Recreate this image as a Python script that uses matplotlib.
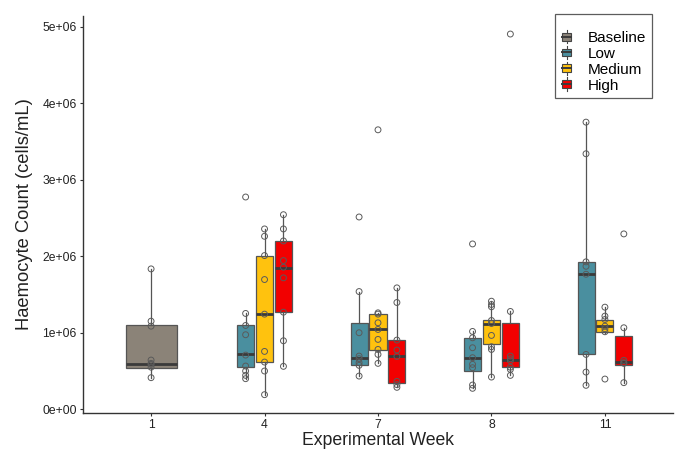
import matplotlib
matplotlib.use("Agg")
import matplotlib.pyplot as plt
from matplotlib.legend_handler import HandlerBase
from matplotlib.patches import Rectangle
from matplotlib.lines import Line2D

plt.rcParams['font.family'] = ['Liberation Sans', 'DejaVu Sans']

weeks = ['1', '4', '7', '8', '11']
groups = ['Baseline', 'Low', 'Medium', 'High']
colors = {'Baseline': '#8b8378', 'Low': '#4a8f9f', 'Medium': '#ffc20e', 'High': '#f20000'}

# box statistics (cells/mL, millions), one entry per box
box_week = ['1', '4', '4', '4', '7', '7', '7', '8', '8', '8', '11', '11', '11']
box_group = ['Baseline', 'Low', 'Medium', 'High', 'Low', 'Medium', 'High',
             'Low', 'Medium', 'High', 'Low', 'Medium', 'High']
box_whislo = [0.413, 0.400, 0.191, 0.561, 0.434, 0.600, 0.287, 0.274, 0.421, 0.443, 0.313, 1.000, 0.348]
box_q1 = [0.535, 0.548, 0.617, 1.269, 0.574, 0.774, 0.339, 0.500, 0.847, 0.552, 0.717, 1.013, 0.574]
box_med = [0.587, 0.726, 1.243, 1.847, 0.669, 1.043, 0.691, 0.674, 1.117, 0.643, 1.764, 1.086, 0.622]
box_q3 = [1.095, 1.095, 2.008, 2.199, 1.130, 1.243, 0.904, 0.934, 1.160, 1.130, 1.926, 1.165, 0.956]
box_whishi = [1.834, 1.252, 2.356, 2.542, 1.538, 1.260, 1.586, 1.017, 1.412, 1.278, 3.751, 1.334, 1.065]

# raw observations (millions), same order as the boxes
box_points = [
    [1.834, 1.151, 1.086, 0.643, 0.600, 0.587, 0.550, 0.413],
    [2.773, 1.252, 1.095, 0.974, 0.708, 0.565, 0.500, 0.443, 0.400],
    [2.356, 2.260, 2.008, 1.695, 1.243, 0.756, 0.617, 0.500, 0.191],
    [2.542, 2.356, 2.199, 1.943, 1.856, 1.717, 1.269, 0.895, 0.561],
    [2.512, 1.538, 1.000, 0.695, 0.661, 0.609, 0.574, 0.434],
    [3.651, 1.260, 1.243, 1.130, 1.043, 0.913, 0.782, 0.717, 0.600],
    [1.586, 1.395, 0.904, 0.774, 0.691, 0.365, 0.322, 0.287],
    [2.160, 1.017, 0.934, 0.804, 0.674, 0.587, 0.543, 0.317, 0.274],
    [1.412, 1.369, 1.339, 1.160, 1.121, 0.965, 0.817, 0.782, 0.421],
    [4.902, 1.278, 0.695, 0.660, 0.635, 0.550, 0.521, 0.443],
    [3.751, 3.338, 1.926, 1.868, 1.764, 0.717, 0.486, 0.313],
    [1.334, 1.217, 1.173, 1.086, 1.052, 1.013, 0.395],
    [2.291, 1.065, 0.639, 0.609, 0.600, 0.348],
]

offsets = {'Low': -1 / 6, 'Medium': 0.0, 'High': 1 / 6}

fig = plt.figure(figsize=(6.78, 4.49), dpi=100)
ax = fig.add_axes([83 / 678, 1 - 412.7 / 449, 590 / 678, (412.7 - 16) / 449])

edge = '#3a3a3a'
for i in range(len(box_week)):
    xi = weeks.index(box_week[i]) + 1
    g = box_group[i]
    if g == 'Baseline':
        pos, w = xi, 0.45
    else:
        pos, w = xi + offsets[g], 0.15
    st = dict(whislo=box_whislo[i] * 1e6, q1=box_q1[i] * 1e6, med=box_med[i] * 1e6,
              q3=box_q3[i] * 1e6, whishi=box_whishi[i] * 1e6, fliers=[])
    ax.bxp([st], positions=[pos], widths=w, showfliers=False, showcaps=False,
           patch_artist=True, manage_ticks=False,
           boxprops=dict(facecolor=colors[g], edgecolor='#555555', linewidth=0.9),
           medianprops=dict(color=edge, linewidth=2.0),
           whiskerprops=dict(color='#555555', linewidth=0.9), zorder=2)
    ys = [v * 1e6 for v in box_points[i]]
    ax.scatter([pos] * len(ys), ys, s=18, facecolors='none', edgecolors='#5a5a5a',
               linewidths=0.7, zorder=3)

ax.set_xlim(0.4, 5.6)
ax.set_ylim(0.191e6 - 0.05 * (4.902e6 - 0.191e6), 4.902e6 + 0.05 * (4.902e6 - 0.191e6))
ax.set_xticks(range(1, 6))
ax.set_xticklabels(weeks)
yt = [0, 1e6, 2e6, 3e6, 4e6, 5e6]
ax.set_yticks(yt)
ax.set_yticklabels(['0e+00', '1e+06', '2e+06', '3e+06', '4e+06', '5e+06'])
ax.tick_params(labelsize=8.7, colors='#333333', length=2.5, width=0.8, pad=2,
               labelcolor='#222222')
for s in ['top', 'right']:
    ax.spines[s].set_visible(False)
for s in ['left', 'bottom']:
    ax.spines[s].set_color('#333333')
    ax.spines[s].set_linewidth(1.0)
ax.set_xlabel('Experimental Week', fontsize=12.7, color='#222222', labelpad=0.8)
ax.set_ylabel('Haemocyte Count (cells/mL)', fontsize=13.2, color='#222222', labelpad=7)


class BoxKey(HandlerBase):
    def create_artists(self, legend, orig, xd, yd, width, height, fontsize, trans):
        c = orig.get_facecolor()
        cx = xd + width / 2
        r = Rectangle((xd + width * 0.1, yd + height * 0.15), width * 0.8, height * 0.7,
                      facecolor=c, edgecolor='#444444', linewidth=0.8, transform=trans)
        m = Line2D([xd + width * 0.1, xd + width * 0.9], [yd + height / 2] * 2,
                   color=edge, linewidth=1.4, transform=trans)
        wl = Line2D([cx, cx], [yd - height * 0.1, yd + height * 1.1],
                    color='#444444', linewidth=0.8, transform=trans)
        return [wl, r, m]


handles = [Rectangle((0, 0), 1, 1, facecolor=colors[g]) for g in groups]
leg = ax.legend(handles, groups, loc='upper right', bbox_to_anchor=(651.7 / 678, 1 - 14.3 / 449),
                bbox_transform=fig.transFigure, fontsize=11, frameon=True, fancybox=False,
                handler_map={Rectangle: BoxKey()}, handlelength=0.8, handleheight=0.75,
                handletextpad=1.0, labelspacing=0.12, borderpad=0.35, borderaxespad=0,
                title=' ', title_fontsize=7)
leg.get_frame().set_edgecolor('#333333')
leg.get_frame().set_linewidth(0.9)

fig.savefig('out.png', dpi=100)
